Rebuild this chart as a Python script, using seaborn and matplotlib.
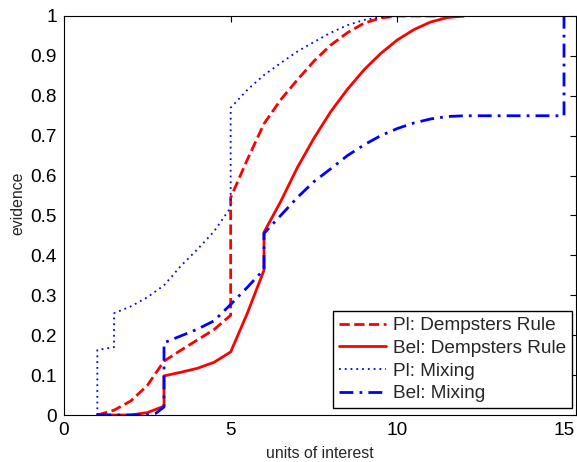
import matplotlib
matplotlib.use("Agg")
import matplotlib.pyplot as plt
import seaborn as sns
import pandas as pd

# Pl: Dempsters Rule (red dashed)
pl_ds_x = [1, 1.5, 2.0, 2.5, 3.0, 3.5, 4.0, 4.5, 5.0, 5.0, 5.5, 6.0, 6.5, 7.0, 7.5, 8.0, 8.5, 9.0, 9.5, 10.0, 12.0]
pl_ds_y = [0.0, 0.012, 0.035, 0.074, 0.135, 0.162, 0.188, 0.214, 0.25, 0.545, 0.64, 0.73, 0.79, 0.84, 0.887, 0.927, 0.958, 0.982, 0.995, 1.0, 1.0]

# Bel: Dempsters Rule (red solid)
bel_ds_x = [1, 2.0, 2.5, 3.0, 3.0, 3.5, 4.0, 4.5, 5.0, 5.5, 6.0, 6.0, 6.5, 7.0, 7.5, 8.0, 8.5, 9.0, 9.5, 10.0, 10.5, 11.0, 11.5, 12.0]
bel_ds_y = [0.0, 0.0, 0.006, 0.022, 0.098, 0.107, 0.117, 0.132, 0.158, 0.255, 0.363, 0.458, 0.535, 0.62, 0.694, 0.76, 0.816, 0.865, 0.906, 0.94, 0.966, 0.985, 0.996, 1.0]

# Pl: Mixing (blue dotted)
pl_mx_x = [1, 1, 1.5, 1.5, 2.0, 2.5, 3.0, 3.5, 4.0, 4.5, 5.0, 5.0, 5.5, 6.0, 6.5, 7.0, 7.5, 8.0, 8.5, 9.0, 9.5, 10.0, 15.0]
pl_mx_y = [0.0, 0.163, 0.17, 0.255, 0.272, 0.295, 0.325, 0.373, 0.415, 0.46, 0.52, 0.77, 0.815, 0.852, 0.882, 0.911, 0.935, 0.958, 0.977, 0.99, 0.997, 1.0, 1.0]

# Bel: Mixing (blue dash-dot)
bel_mx_x = [1, 2.5, 2.75, 3.0, 3.0, 3.5, 4.0, 4.5, 5.0, 5.5, 6.0, 6.0, 6.5, 7.0, 7.5, 8.0, 8.5, 9.0, 9.5, 10.0, 10.5, 11.0, 11.5, 12.0, 15.0, 15.0]
bel_mx_y = [0.0, 0.0, 0.004, 0.02, 0.181, 0.198, 0.215, 0.236, 0.277, 0.32, 0.365, 0.455, 0.5, 0.545, 0.585, 0.617, 0.65, 0.677, 0.7, 0.718, 0.732, 0.742, 0.748, 0.75, 0.75, 1.0]

labels = ["Pl: Dempsters Rule", "Bel: Dempsters Rule", "Pl: Mixing", "Bel: Mixing"]
xticks = [0, 5, 10, 15]
yticks = [0, 0.1, 0.2, 0.3, 0.4, 0.5, 0.6, 0.7, 0.8, 0.9, 1]

sns.set_style("white")
plt.rcParams['font.family'] = ['Liberation Sans', 'DejaVu Sans']

fig = plt.figure(figsize=(5.77, 4.62), dpi=100)
ax = fig.add_axes([64/577, 47/462, 512/577, 399/462])

series = [
    (pl_ds_x, pl_ds_y, labels[0], "#ff0000", (0, (3.7, 1.6)), 2.0),
    (bel_ds_x, bel_ds_y, labels[1], "#ff0000", "-", 2.0),
    (pl_mx_x, pl_mx_y, labels[2], "#0000ff", (0, (1, 2.2)), 1.3),
    (bel_mx_x, bel_mx_y, labels[3], "#0000ff", (0, (5, 2.2, 1, 2.2)), 2.0),
]
for xs, ys, lab, col, ls, lw in series:
    df = pd.DataFrame({"x": xs, "y": ys})
    sns.lineplot(data=df, x="x", y="y", ax=ax, sort=False, estimator=None,
                 color=col, linestyle=ls, linewidth=lw, label=lab)

ax.set_xlim(0, 15.36)
ax.set_ylim(0, 1)
ax.set_xticks(xticks)
ax.set_xticklabels([str(t) for t in xticks])
ax.set_yticks(yticks)
ax.set_yticklabels(["0", "0.1", "0.2", "0.3", "0.4", "0.5", "0.6", "0.7", "0.8", "0.9", "1"])
ax.tick_params(direction="in", length=4, width=0.8, top=True, right=True,
               labelsize=13.7, pad=5, colors="black")
for s in ax.spines.values():
    s.set_visible(True)
    s.set_color("black")
    s.set_linewidth(0.8)

ax.set_xlabel("units of interest", fontsize=11.4, labelpad=5.3)
ax.set_ylabel("evidence", fontsize=11.4)
ax.yaxis.set_label_coords(-0.076, 0.53)

leg = ax.legend(loc="lower right", bbox_to_anchor=(0.992, 0.0175), fontsize=13.7,
                frameon=True, fancybox=False, framealpha=1, edgecolor="black",
                handlelength=2.5, labelspacing=0.28, borderpad=0.3, handletextpad=0.35,
                borderaxespad=0)
leg.get_frame().set_linewidth(1.0)

fig.savefig("out.png", dpi=100)
